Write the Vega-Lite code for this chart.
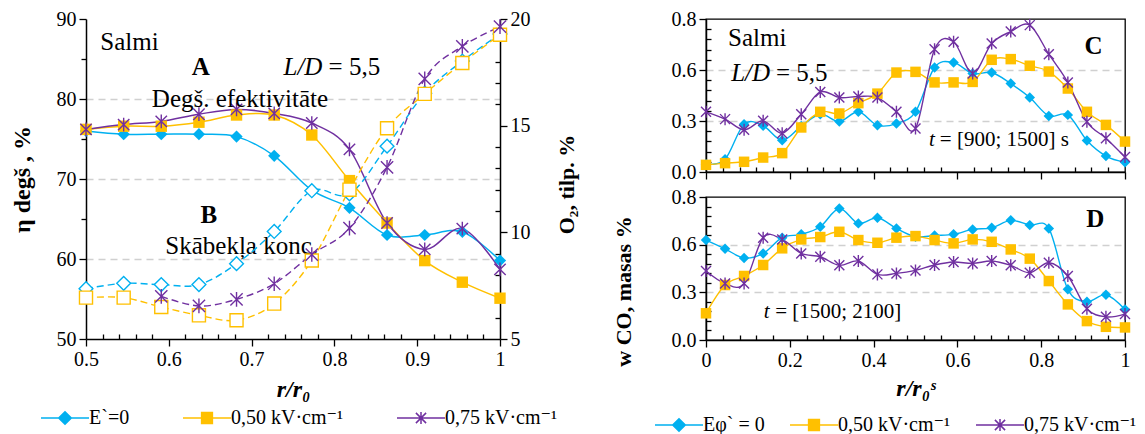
{
"$schema": "https://vega.github.io/schema/vega-lite/v6.json",
"background": "white",
"padding": {"left": 10, "top": 8, "right": 4, "bottom": 0},
"config": {
 "view": {"stroke": null},
 "axis": {"domainColor": "black", "domainWidth": 1.5, "tickColor": "black", "tickWidth": 1.3, "labelColor": "black", "labelFont": "'Liberation Serif', 'Times New Roman', 'DejaVu Serif', serif", "labelFontSize": 20, "titleColor": "black", "titleFont": "'Liberation Serif', 'Times New Roman', 'DejaVu Serif', serif", "titleFontWeight": "bold", "titleFontSize": 22, "labelOverlap": false, "labelFlush": false, "labelBound": false, "gridColor": "#d0d0d0", "gridDash": [7, 5], "gridWidth": 1.3, "labelPadding": 3},
 "legend": {"labelFont": "'Liberation Serif', 'Times New Roman', 'DejaVu Serif', serif", "labelFontSize": 20, "labelColor": "black"},
 "text": {"font": "'Liberation Serif', 'Times New Roman', 'DejaVu Serif', serif", "color": "black"}
},
"datasets": {
 "etaA": [
  {"x": 0.5, "y": 76.0, "s": "E`=0"}, {"x": 0.5455, "y": 75.6, "s": "E`=0"}, {"x": 0.5909, "y": 75.6, "s": "E`=0"}, {"x": 0.6364, "y": 75.6, "s": "E`=0"}, {"x": 0.6818, "y": 75.3, "s": "E`=0"}, {"x": 0.7273, "y": 72.9, "s": "E`=0"}, {"x": 0.7727, "y": 68.6, "s": "E`=0"}, {"x": 0.8182, "y": 66.4, "s": "E`=0"}, {"x": 0.8636, "y": 63.0, "s": "E`=0"}, {"x": 0.9091, "y": 63.0, "s": "E`=0"}, {"x": 0.9545, "y": 63.4, "s": "E`=0"}, {"x": 1, "y": 59.8, "s": "E`=0"},
  {"x": 0.5, "y": 76.2, "s": "0,50 kV·cm⁻¹"}, {"x": 0.5455, "y": 76.6, "s": "0,50 kV·cm⁻¹"}, {"x": 0.5909, "y": 76.6, "s": "0,50 kV·cm⁻¹"}, {"x": 0.6364, "y": 77.1, "s": "0,50 kV·cm⁻¹"}, {"x": 0.6818, "y": 78.0, "s": "0,50 kV·cm⁻¹"}, {"x": 0.7273, "y": 78.0, "s": "0,50 kV·cm⁻¹"}, {"x": 0.7727, "y": 75.5, "s": "0,50 kV·cm⁻¹"}, {"x": 0.8182, "y": 69.8, "s": "0,50 kV·cm⁻¹"}, {"x": 0.8636, "y": 64.5, "s": "0,50 kV·cm⁻¹"}, {"x": 0.9091, "y": 59.8, "s": "0,50 kV·cm⁻¹"}, {"x": 0.9545, "y": 57.1, "s": "0,50 kV·cm⁻¹"}, {"x": 1, "y": 55.1, "s": "0,50 kV·cm⁻¹"},
  {"x": 0.5, "y": 76.2, "s": "0,75 kV·cm⁻¹"}, {"x": 0.5455, "y": 76.8, "s": "0,75 kV·cm⁻¹"}, {"x": 0.5909, "y": 77.2, "s": "0,75 kV·cm⁻¹"}, {"x": 0.6364, "y": 78.1, "s": "0,75 kV·cm⁻¹"}, {"x": 0.6818, "y": 78.7, "s": "0,75 kV·cm⁻¹"}, {"x": 0.7273, "y": 78.2, "s": "0,75 kV·cm⁻¹"}, {"x": 0.7727, "y": 77.0, "s": "0,75 kV·cm⁻¹"}, {"x": 0.8182, "y": 73.7, "s": "0,75 kV·cm⁻¹"}, {"x": 0.8636, "y": 64.5, "s": "0,75 kV·cm⁻¹"}, {"x": 0.9091, "y": 61.2, "s": "0,75 kV·cm⁻¹"}, {"x": 0.9545, "y": 63.8, "s": "0,75 kV·cm⁻¹"}, {"x": 1, "y": 58.7, "s": "0,75 kV·cm⁻¹"}
 ],
 "o2A": [
  {"x": 0.5, "y": 7.36, "s": "E`=0"}, {"x": 0.5455, "y": 7.61, "s": "E`=0"}, {"x": 0.5909, "y": 7.55, "s": "E`=0"}, {"x": 0.6364, "y": 7.55, "s": "E`=0"}, {"x": 0.6818, "y": 8.53, "s": "E`=0"}, {"x": 0.7273, "y": 10.04, "s": "E`=0"}, {"x": 0.7727, "y": 11.95, "s": "E`=0"}, {"x": 0.8182, "y": 11.8, "s": "E`=0"}, {"x": 0.8636, "y": 14.04, "s": "E`=0"}, {"x": 0.9091, "y": 16.52, "s": "E`=0"}, {"x": 0.9545, "y": 18.03, "s": "E`=0"}, {"x": 1, "y": 19.3, "s": "E`=0"},
  {"x": 0.5, "y": 6.94, "s": "0,50 kV·cm⁻¹"}, {"x": 0.5455, "y": 6.94, "s": "0,50 kV·cm⁻¹"}, {"x": 0.5909, "y": 6.5, "s": "0,50 kV·cm⁻¹"}, {"x": 0.6364, "y": 6.11, "s": "0,50 kV·cm⁻¹"}, {"x": 0.6818, "y": 5.88, "s": "0,50 kV·cm⁻¹"}, {"x": 0.7273, "y": 6.66, "s": "0,50 kV·cm⁻¹"}, {"x": 0.7727, "y": 8.68, "s": "0,50 kV·cm⁻¹"}, {"x": 0.8182, "y": 12.0, "s": "0,50 kV·cm⁻¹"}, {"x": 0.8636, "y": 14.88, "s": "0,50 kV·cm⁻¹"}, {"x": 0.9091, "y": 16.49, "s": "0,50 kV·cm⁻¹"}, {"x": 0.9545, "y": 17.94, "s": "0,50 kV·cm⁻¹"}, {"x": 1, "y": 19.26, "s": "0,50 kV·cm⁻¹"},
  {"x": 0.5909, "y": 7.0, "s": "0,75 kV·cm⁻¹"}, {"x": 0.6364, "y": 6.55, "s": "0,75 kV·cm⁻¹"}, {"x": 0.6818, "y": 6.86, "s": "0,75 kV·cm⁻¹"}, {"x": 0.7273, "y": 7.59, "s": "0,75 kV·cm⁻¹"}, {"x": 0.7727, "y": 8.96, "s": "0,75 kV·cm⁻¹"}, {"x": 0.8182, "y": 10.2, "s": "0,75 kV·cm⁻¹"}, {"x": 0.8636, "y": 13.05, "s": "0,75 kV·cm⁻¹"}, {"x": 0.9091, "y": 17.19, "s": "0,75 kV·cm⁻¹"}, {"x": 0.9545, "y": 18.72, "s": "0,75 kV·cm⁻¹"}, {"x": 1, "y": 19.64, "s": "0,75 kV·cm⁻¹"}
 ],
 "C": [
  {"x": 0, "y": 0.046, "s": "Eφ` = 0"}, {"x": 0.0455, "y": 0.075, "s": "Eφ` = 0"}, {"x": 0.0909, "y": 0.281, "s": "Eφ` = 0"}, {"x": 0.1364, "y": 0.272, "s": "Eφ` = 0"}, {"x": 0.1818, "y": 0.187, "s": "Eφ` = 0"}, {"x": 0.2273, "y": 0.27, "s": "Eφ` = 0"}, {"x": 0.2727, "y": 0.34, "s": "Eφ` = 0"}, {"x": 0.3182, "y": 0.297, "s": "Eφ` = 0"}, {"x": 0.3636, "y": 0.354, "s": "Eφ` = 0"}, {"x": 0.4091, "y": 0.275, "s": "Eφ` = 0"}, {"x": 0.4545, "y": 0.285, "s": "Eφ` = 0"}, {"x": 0.5, "y": 0.354, "s": "Eφ` = 0"}, {"x": 0.5455, "y": 0.615, "s": "Eφ` = 0"}, {"x": 0.5909, "y": 0.644, "s": "Eφ` = 0"}, {"x": 0.6364, "y": 0.579, "s": "Eφ` = 0"}, {"x": 0.6818, "y": 0.585, "s": "Eφ` = 0"}, {"x": 0.7273, "y": 0.52, "s": "Eφ` = 0"}, {"x": 0.7727, "y": 0.438, "s": "Eφ` = 0"}, {"x": 0.8182, "y": 0.33, "s": "Eφ` = 0"}, {"x": 0.8636, "y": 0.336, "s": "Eφ` = 0"}, {"x": 0.9091, "y": 0.185, "s": "Eφ` = 0"}, {"x": 0.9545, "y": 0.094, "s": "Eφ` = 0"}, {"x": 1, "y": 0.058, "s": "Eφ` = 0"},
  {"x": 0, "y": 0.042, "s": "0,50 kV·cm⁻¹"}, {"x": 0.0455, "y": 0.052, "s": "0,50 kV·cm⁻¹"}, {"x": 0.0909, "y": 0.06, "s": "0,50 kV·cm⁻¹"}, {"x": 0.1364, "y": 0.085, "s": "0,50 kV·cm⁻¹"}, {"x": 0.1818, "y": 0.111, "s": "0,50 kV·cm⁻¹"}, {"x": 0.2273, "y": 0.262, "s": "0,50 kV·cm⁻¹"}, {"x": 0.2727, "y": 0.354, "s": "0,50 kV·cm⁻¹"}, {"x": 0.3182, "y": 0.344, "s": "0,50 kV·cm⁻¹"}, {"x": 0.3636, "y": 0.405, "s": "0,50 kV·cm⁻¹"}, {"x": 0.4091, "y": 0.461, "s": "0,50 kV·cm⁻¹"}, {"x": 0.4545, "y": 0.585, "s": "0,50 kV·cm⁻¹"}, {"x": 0.5, "y": 0.589, "s": "0,50 kV·cm⁻¹"}, {"x": 0.5455, "y": 0.527, "s": "0,50 kV·cm⁻¹"}, {"x": 0.5909, "y": 0.527, "s": "0,50 kV·cm⁻¹"}, {"x": 0.6364, "y": 0.53, "s": "0,50 kV·cm⁻¹"}, {"x": 0.6818, "y": 0.66, "s": "0,50 kV·cm⁻¹"}, {"x": 0.7273, "y": 0.664, "s": "0,50 kV·cm⁻¹"}, {"x": 0.7727, "y": 0.625, "s": "0,50 kV·cm⁻¹"}, {"x": 0.8182, "y": 0.591, "s": "0,50 kV·cm⁻¹"}, {"x": 0.8636, "y": 0.491, "s": "0,50 kV·cm⁻¹"}, {"x": 0.9091, "y": 0.354, "s": "0,50 kV·cm⁻¹"}, {"x": 0.9545, "y": 0.277, "s": "0,50 kV·cm⁻¹"}, {"x": 1, "y": 0.179, "s": "0,50 kV·cm⁻¹"},
  {"x": 0, "y": 0.354, "s": "0,75 kV·cm⁻¹"}, {"x": 0.0455, "y": 0.311, "s": "0,75 kV·cm⁻¹"}, {"x": 0.0909, "y": 0.248, "s": "0,75 kV·cm⁻¹"}, {"x": 0.1364, "y": 0.301, "s": "0,75 kV·cm⁻¹"}, {"x": 0.1818, "y": 0.228, "s": "0,75 kV·cm⁻¹"}, {"x": 0.2273, "y": 0.34, "s": "0,75 kV·cm⁻¹"}, {"x": 0.2727, "y": 0.471, "s": "0,75 kV·cm⁻¹"}, {"x": 0.3182, "y": 0.438, "s": "0,75 kV·cm⁻¹"}, {"x": 0.3636, "y": 0.444, "s": "0,75 kV·cm⁻¹"}, {"x": 0.4091, "y": 0.438, "s": "0,75 kV·cm⁻¹"}, {"x": 0.4545, "y": 0.354, "s": "0,75 kV·cm⁻¹"}, {"x": 0.5, "y": 0.256, "s": "0,75 kV·cm⁻¹"}, {"x": 0.5455, "y": 0.722, "s": "0,75 kV·cm⁻¹"}, {"x": 0.5909, "y": 0.766, "s": "0,75 kV·cm⁻¹"}, {"x": 0.6364, "y": 0.579, "s": "0,75 kV·cm⁻¹"}, {"x": 0.6818, "y": 0.756, "s": "0,75 kV·cm⁻¹"}, {"x": 0.7273, "y": 0.826, "s": "0,75 kV·cm⁻¹"}, {"x": 0.7727, "y": 0.864, "s": "0,75 kV·cm⁻¹"}, {"x": 0.8182, "y": 0.693, "s": "0,75 kV·cm⁻¹"}, {"x": 0.8636, "y": 0.527, "s": "0,75 kV·cm⁻¹"}, {"x": 0.9091, "y": 0.295, "s": "0,75 kV·cm⁻¹"}, {"x": 0.9545, "y": 0.199, "s": "0,75 kV·cm⁻¹"}, {"x": 1, "y": 0.088, "s": "0,75 kV·cm⁻¹"}
 ],
 "D": [
  {"x": 0, "y": 0.629, "s": "Eφ` = 0"}, {"x": 0.0455, "y": 0.574, "s": "Eφ` = 0"}, {"x": 0.0909, "y": 0.516, "s": "Eφ` = 0"}, {"x": 0.1364, "y": 0.545, "s": "Eφ` = 0"}, {"x": 0.1818, "y": 0.644, "s": "Eφ` = 0"}, {"x": 0.2273, "y": 0.665, "s": "Eφ` = 0"}, {"x": 0.2727, "y": 0.713, "s": "Eφ` = 0"}, {"x": 0.3182, "y": 0.828, "s": "Eφ` = 0"}, {"x": 0.3636, "y": 0.734, "s": "Eφ` = 0"}, {"x": 0.4091, "y": 0.769, "s": "Eφ` = 0"}, {"x": 0.4545, "y": 0.702, "s": "Eφ` = 0"}, {"x": 0.5, "y": 0.65, "s": "Eφ` = 0"}, {"x": 0.5455, "y": 0.658, "s": "Eφ` = 0"}, {"x": 0.5909, "y": 0.665, "s": "Eφ` = 0"}, {"x": 0.6364, "y": 0.696, "s": "Eφ` = 0"}, {"x": 0.6818, "y": 0.706, "s": "Eφ` = 0"}, {"x": 0.7273, "y": 0.753, "s": "Eφ` = 0"}, {"x": 0.7727, "y": 0.723, "s": "Eφ` = 0"}, {"x": 0.8182, "y": 0.702, "s": "Eφ` = 0"}, {"x": 0.8636, "y": 0.319, "s": "Eφ` = 0"}, {"x": 0.9091, "y": 0.241, "s": "Eφ` = 0"}, {"x": 0.9545, "y": 0.285, "s": "Eφ` = 0"}, {"x": 1, "y": 0.192, "s": "Eφ` = 0"},
  {"x": 0, "y": 0.168, "s": "0,50 kV·cm⁻¹"}, {"x": 0.0455, "y": 0.346, "s": "0,50 kV·cm⁻¹"}, {"x": 0.0909, "y": 0.403, "s": "0,50 kV·cm⁻¹"}, {"x": 0.1364, "y": 0.472, "s": "0,50 kV·cm⁻¹"}, {"x": 0.1818, "y": 0.577, "s": "0,50 kV·cm⁻¹"}, {"x": 0.2273, "y": 0.633, "s": "0,50 kV·cm⁻¹"}, {"x": 0.2727, "y": 0.648, "s": "0,50 kV·cm⁻¹"}, {"x": 0.3182, "y": 0.681, "s": "0,50 kV·cm⁻¹"}, {"x": 0.3636, "y": 0.629, "s": "0,50 kV·cm⁻¹"}, {"x": 0.4091, "y": 0.612, "s": "0,50 kV·cm⁻¹"}, {"x": 0.4545, "y": 0.644, "s": "0,50 kV·cm⁻¹"}, {"x": 0.5, "y": 0.654, "s": "0,50 kV·cm⁻¹"}, {"x": 0.5455, "y": 0.629, "s": "0,50 kV·cm⁻¹"}, {"x": 0.5909, "y": 0.608, "s": "0,50 kV·cm⁻¹"}, {"x": 0.6364, "y": 0.633, "s": "0,50 kV·cm⁻¹"}, {"x": 0.6818, "y": 0.618, "s": "0,50 kV·cm⁻¹"}, {"x": 0.7273, "y": 0.57, "s": "0,50 kV·cm⁻¹"}, {"x": 0.7727, "y": 0.512, "s": "0,50 kV·cm⁻¹"}, {"x": 0.8182, "y": 0.371, "s": "0,50 kV·cm⁻¹"}, {"x": 0.8636, "y": 0.224, "s": "0,50 kV·cm⁻¹"}, {"x": 0.9091, "y": 0.119, "s": "0,50 kV·cm⁻¹"}, {"x": 0.9545, "y": 0.083, "s": "0,50 kV·cm⁻¹"}, {"x": 1, "y": 0.079, "s": "0,50 kV·cm⁻¹"},
  {"x": 0, "y": 0.434, "s": "0,75 kV·cm⁻¹"}, {"x": 0.0455, "y": 0.356, "s": "0,75 kV·cm⁻¹"}, {"x": 0.0909, "y": 0.356, "s": "0,75 kV·cm⁻¹"}, {"x": 0.1364, "y": 0.644, "s": "0,75 kV·cm⁻¹"}, {"x": 0.1818, "y": 0.633, "s": "0,75 kV·cm⁻¹"}, {"x": 0.2273, "y": 0.545, "s": "0,75 kV·cm⁻¹"}, {"x": 0.2727, "y": 0.524, "s": "0,75 kV·cm⁻¹"}, {"x": 0.3182, "y": 0.47, "s": "0,75 kV·cm⁻¹"}, {"x": 0.3636, "y": 0.497, "s": "0,75 kV·cm⁻¹"}, {"x": 0.4091, "y": 0.413, "s": "0,75 kV·cm⁻¹"}, {"x": 0.4545, "y": 0.419, "s": "0,75 kV·cm⁻¹"}, {"x": 0.5, "y": 0.438, "s": "0,75 kV·cm⁻¹"}, {"x": 0.5455, "y": 0.472, "s": "0,75 kV·cm⁻¹"}, {"x": 0.5909, "y": 0.491, "s": "0,75 kV·cm⁻¹"}, {"x": 0.6364, "y": 0.482, "s": "0,75 kV·cm⁻¹"}, {"x": 0.6818, "y": 0.497, "s": "0,75 kV·cm⁻¹"}, {"x": 0.7273, "y": 0.47, "s": "0,75 kV·cm⁻¹"}, {"x": 0.7727, "y": 0.423, "s": "0,75 kV·cm⁻¹"}, {"x": 0.8182, "y": 0.486, "s": "0,75 kV·cm⁻¹"}, {"x": 0.8636, "y": 0.403, "s": "0,75 kV·cm⁻¹"}, {"x": 0.9091, "y": 0.197, "s": "0,75 kV·cm⁻¹"}, {"x": 0.9545, "y": 0.146, "s": "0,75 kV·cm⁻¹"}, {"x": 1, "y": 0.163, "s": "0,75 kV·cm⁻¹"}
 ],
 "tA_n": [{"x": 0.5172, "y": 87.1, "t": "Salmi"}, {"x": 0.793, "y": 83.95, "t": "= 5,5"}, {"x": 0.5795, "y": 80.0, "t": "Degš. efektivitāte"}, {"x": 0.5958, "y": 61.6, "t": "Skābekļa konc."}],
 "tA_b": [{"x": 0.6386, "y": 83.95, "t": "A"}, {"x": 0.6484, "y": 65.5, "t": "B"}],
 "tA_i": [{"x": 0.7385, "y": 83.95, "t": "L/D"}],
 "tC_n": [{"x": 0.0525, "y": 0.791, "t": "Salmi"}, {"x": 0.167, "y": 0.585, "t": "= 5,5"}],
 "tC_i": [{"x": 0.06, "y": 0.585, "t": "L/D"}],
 "tC_b": [{"x": 0.925, "y": 0.74, "t": "C"}],
 "tC_ti": [{"x": 0.532, "y": 0.19, "t": "t"}],
 "tC_tn": [{"x": 0.558, "y": 0.19, "t": "= [900; 1500] s"}],
 "tD_b": [{"x": 0.929, "y": 0.76, "t": "D"}],
 "tD_ti": [{"x": 0.138, "y": 0.176, "t": "t"}],
 "tD_tn": [{"x": 0.165, "y": 0.176, "t": "= [1500; 2100]"}]
},
"hconcat": [
 {
  "width": 414, "height": 320,
  "layer": [
   {
    "encoding": {
     "x": {"field": "x", "type": "quantitative", "scale": {"domain": [0.5, 1], "nice": false, "zero": false}, "axis": {"values": [0.5,0.52,0.54,0.56,0.58,0.6,0.62,0.64,0.66,0.68,0.7,0.72,0.74,0.76,0.78,0.8,0.82,0.84,0.86,0.88,0.9,0.92,0.94,0.96,0.98,1], "labelExpr": "abs(datum.value*10-round(datum.value*10))<0.001 ? format(datum.value,'~g') : ''", "labelFont": "'Liberation Serif', 'Times New Roman', 'DejaVu Serif', serif", "tickSize": {"condition": {"test": "abs(datum.value*10-round(datum.value*10))<0.001", "value": 7}, "value": -5}, "grid": false, "title": "r/r₀", "titleFontStyle": "italic", "titleFontSize": 24, "titlePadding": 8}},
     "y": {"field": "y", "type": "quantitative", "scale": {"domain": [50, 90], "nice": false, "zero": false}, "axis": {"orient": "left", "values": [50,55,60,65,70,75,80,85,90], "labelExpr": "datum.value % 10 == 0 ? datum.label : ''", "labelFont": "'Liberation Serif', 'Times New Roman', 'DejaVu Serif', serif", "tickSize": {"condition": {"test": "datum.value % 10 == 0", "value": 7}, "value": 5}, "grid": true, "gridOpacity": {"condition": {"test": "datum.value==60||datum.value==70||datum.value==80", "value": 1}, "value": 0}, "title": "η degš , %", "titleFontSize": 24, "titleX": -64, "titleY": 160, "titleAngle": 270, "titleBaseline": "middle", "titleAlign": "center"}}
    },
    "layer": [
     {"data": {"name": "etaA"}, "mark": {"type": "line", "interpolate": "cardinal", "strokeWidth": 1.5}, "encoding": {"color": {"field": "s", "type": "nominal", "scale": {"domain": ["E`=0", "0,50 kV·cm⁻¹", "0,75 kV·cm⁻¹"], "range": ["#00B0F0", "#FFC000", "#7030A0"]}, "legend": {"orient": "none", "legendX": -31, "legendY": 389, "direction": "horizontal", "title": null, "symbolSize": 144, "labelOffset": 14, "columnPadding": 50, "labelFontSize": 20, "labelColor": "black", "encode": {"symbols": {"update": {"shape": {"signal": "indexof(datum.value,'0,50')>=0 ? 'M-4,0H4M-0.9,-0.9H0.9V0.9H-0.9Z' : indexof(datum.value,'0,75')>=0 ? 'M-4,0H4M-0.85,-0.85L0.85,0.85M-0.85,0.85L0.85,-0.85M0,-1L0,1' : 'M-4,0H4M0,-1.05L1.05,0L0,1.05L-1.05,0Z'"}, "fill": {"signal": "indexof(datum.value,'0,50')>=0 ? '#FFC000' : indexof(datum.value,'0,75')>=0 ? '#7030A0' : '#00B0F0'"}, "stroke": {"signal": "indexof(datum.value,'0,50')>=0 ? '#FFC000' : indexof(datum.value,'0,75')>=0 ? '#7030A0' : '#00B0F0'"}, "strokeWidth": {"value": 1.5}, "opacity": {"value": 1}, "size": {"value": 144}}}}}}}},
     {"data": {"name": "etaA"}, "transform": [{"filter": "indexof(datum.s,'0,')<0"}], "mark": {"type": "point", "shape": "diamond", "filled": true, "size": 150, "opacity": 1}, "encoding": {"color": {"field": "s", "type": "nominal", "scale": {"domain": ["E`=0", "0,50 kV·cm⁻¹", "0,75 kV·cm⁻¹"], "range": ["#00B0F0", "#FFC000", "#7030A0"]}, "legend": {"orient": "none", "legendX": -31, "legendY": 389, "direction": "horizontal", "title": null, "symbolSize": 144, "labelOffset": 14, "columnPadding": 50, "labelFontSize": 20, "labelColor": "black", "encode": {"symbols": {"update": {"shape": {"signal": "indexof(datum.value,'0,50')>=0 ? 'M-4,0H4M-0.9,-0.9H0.9V0.9H-0.9Z' : indexof(datum.value,'0,75')>=0 ? 'M-4,0H4M-0.85,-0.85L0.85,0.85M-0.85,0.85L0.85,-0.85M0,-1L0,1' : 'M-4,0H4M0,-1.05L1.05,0L0,1.05L-1.05,0Z'"}, "fill": {"signal": "indexof(datum.value,'0,50')>=0 ? '#FFC000' : indexof(datum.value,'0,75')>=0 ? '#7030A0' : '#00B0F0'"}, "stroke": {"signal": "indexof(datum.value,'0,50')>=0 ? '#FFC000' : indexof(datum.value,'0,75')>=0 ? '#7030A0' : '#00B0F0'"}, "strokeWidth": {"value": 1.5}, "opacity": {"value": 1}, "size": {"value": 144}}}}}}}},
     {"data": {"name": "etaA"}, "transform": [{"filter": "indexof(datum.s,'0,50')>=0"}], "mark": {"type": "point", "shape": "square", "filled": true, "size": 130, "opacity": 1}, "encoding": {"color": {"field": "s", "type": "nominal", "scale": {"domain": ["E`=0", "0,50 kV·cm⁻¹", "0,75 kV·cm⁻¹"], "range": ["#00B0F0", "#FFC000", "#7030A0"]}, "legend": {"orient": "none", "legendX": -31, "legendY": 389, "direction": "horizontal", "title": null, "symbolSize": 144, "labelOffset": 14, "columnPadding": 50, "labelFontSize": 20, "labelColor": "black", "encode": {"symbols": {"update": {"shape": {"signal": "indexof(datum.value,'0,50')>=0 ? 'M-4,0H4M-0.9,-0.9H0.9V0.9H-0.9Z' : indexof(datum.value,'0,75')>=0 ? 'M-4,0H4M-0.85,-0.85L0.85,0.85M-0.85,0.85L0.85,-0.85M0,-1L0,1' : 'M-4,0H4M0,-1.05L1.05,0L0,1.05L-1.05,0Z'"}, "fill": {"signal": "indexof(datum.value,'0,50')>=0 ? '#FFC000' : indexof(datum.value,'0,75')>=0 ? '#7030A0' : '#00B0F0'"}, "stroke": {"signal": "indexof(datum.value,'0,50')>=0 ? '#FFC000' : indexof(datum.value,'0,75')>=0 ? '#7030A0' : '#00B0F0'"}, "strokeWidth": {"value": 1.5}, "opacity": {"value": 1}, "size": {"value": 144}}}}}}}},
     {"data": {"name": "etaA"}, "transform": [{"filter": "indexof(datum.s,'0,75')>=0"}], "mark": {"type": "point", "shape": "M-1,-1L1,1M-1,1L1,-1M0,-1.2L0,1.2", "filled": false, "size": 130, "strokeWidth": 1.4, "opacity": 1}, "encoding": {"color": {"field": "s", "type": "nominal", "scale": {"domain": ["E`=0", "0,50 kV·cm⁻¹", "0,75 kV·cm⁻¹"], "range": ["#00B0F0", "#FFC000", "#7030A0"]}, "legend": {"orient": "none", "legendX": -31, "legendY": 389, "direction": "horizontal", "title": null, "symbolSize": 144, "labelOffset": 14, "columnPadding": 50, "labelFontSize": 20, "labelColor": "black", "encode": {"symbols": {"update": {"shape": {"signal": "indexof(datum.value,'0,50')>=0 ? 'M-4,0H4M-0.9,-0.9H0.9V0.9H-0.9Z' : indexof(datum.value,'0,75')>=0 ? 'M-4,0H4M-0.85,-0.85L0.85,0.85M-0.85,0.85L0.85,-0.85M0,-1L0,1' : 'M-4,0H4M0,-1.05L1.05,0L0,1.05L-1.05,0Z'"}, "fill": {"signal": "indexof(datum.value,'0,50')>=0 ? '#FFC000' : indexof(datum.value,'0,75')>=0 ? '#7030A0' : '#00B0F0'"}, "stroke": {"signal": "indexof(datum.value,'0,50')>=0 ? '#FFC000' : indexof(datum.value,'0,75')>=0 ? '#7030A0' : '#00B0F0'"}, "strokeWidth": {"value": 1.5}, "opacity": {"value": 1}, "size": {"value": 144}}}}}}}},
     {"data": {"name": "tA_n"}, "mark": {"type": "text", "align": "left", "baseline": "middle", "fontSize": 25, "font": "'Liberation Serif', 'Times New Roman', 'DejaVu Serif', serif", "color": "black"}, "encoding": {"text": {"field": "t"}}},
     {"data": {"name": "tA_b"}, "mark": {"type": "text", "align": "center", "baseline": "middle", "fontSize": 25, "fontWeight": "bold", "font": "'Liberation Serif', 'Times New Roman', 'DejaVu Serif', serif", "color": "black"}, "encoding": {"text": {"field": "t"}}},
     {"data": {"name": "tA_i"}, "mark": {"type": "text", "align": "left", "baseline": "middle", "fontSize": 25, "fontStyle": "italic", "font": "'Liberation Serif', 'Times New Roman', 'DejaVu Serif', serif", "color": "black"}, "encoding": {"text": {"field": "t"}}}
    ]
   },
   {
    "encoding": {
     "x": {"field": "x", "type": "quantitative", "scale": {"domain": [0.5, 1], "nice": false, "zero": false}, "axis": {"values": [0.5,0.52,0.54,0.56,0.58,0.6,0.62,0.64,0.66,0.68,0.7,0.72,0.74,0.76,0.78,0.8,0.82,0.84,0.86,0.88,0.9,0.92,0.94,0.96,0.98,1], "labelExpr": "abs(datum.value*10-round(datum.value*10))<0.001 ? format(datum.value,'~g') : ''", "labelFont": "'Liberation Serif', 'Times New Roman', 'DejaVu Serif', serif", "tickSize": {"condition": {"test": "abs(datum.value*10-round(datum.value*10))<0.001", "value": 7}, "value": -5}, "grid": false, "title": "r/r₀", "titleFontStyle": "italic", "titleFontSize": 24, "titlePadding": 8}},
     "y": {"field": "y", "type": "quantitative", "scale": {"domain": [5, 20], "nice": false, "zero": false}, "axis": {"orient": "right", "values": [5,6,7,8,9,10,11,12,13,14,15,16,17,18,19,20], "labelExpr": "datum.value % 5 == 0 ? datum.label : ''", "labelFont": "'Liberation Serif', 'Times New Roman', 'DejaVu Serif', serif", "tickSize": {"condition": {"test": "datum.value % 5 == 0", "value": 7}, "value": -5}, "grid": false, "title": "O₂, tilp. %", "titleX": 66, "titleY": 165, "titleAngle": 270, "titleBaseline": "middle", "titleAlign": "center"}}
    },
    "layer": [
     {"data": {"name": "o2A"}, "mark": {"type": "line", "interpolate": "cardinal", "strokeWidth": 1.4, "strokeDash": [7, 4]}, "encoding": {"color": {"field": "s", "type": "nominal", "scale": {"domain": ["E`=0", "0,50 kV·cm⁻¹", "0,75 kV·cm⁻¹"], "range": ["#00B0F0", "#FFC000", "#7030A0"]}, "legend": null}}},
     {"data": {"name": "o2A"}, "transform": [{"filter": "indexof(datum.s,'0,')<0"}], "mark": {"type": "point", "shape": "diamond", "filled": false, "fill": "white", "size": 190, "strokeWidth": 1.4, "opacity": 1}, "encoding": {"color": {"field": "s", "type": "nominal", "scale": {"domain": ["E`=0", "0,50 kV·cm⁻¹", "0,75 kV·cm⁻¹"], "range": ["#00B0F0", "#FFC000", "#7030A0"]}, "legend": null}}},
     {"data": {"name": "o2A"}, "transform": [{"filter": "indexof(datum.s,'0,50')>=0"}], "mark": {"type": "point", "shape": "square", "filled": false, "fill": "white", "size": 170, "strokeWidth": 1.4, "opacity": 1}, "encoding": {"color": {"field": "s", "type": "nominal", "scale": {"domain": ["E`=0", "0,50 kV·cm⁻¹", "0,75 kV·cm⁻¹"], "range": ["#00B0F0", "#FFC000", "#7030A0"]}, "legend": null}}},
     {"data": {"name": "o2A"}, "transform": [{"filter": "indexof(datum.s,'0,75')>=0"}], "mark": {"type": "point", "shape": "M-1,-1L1,1M-1,1L1,-1M0,-1.2L0,1.2", "filled": false, "size": 150, "strokeWidth": 1.4, "opacity": 1}, "encoding": {"color": {"field": "s", "type": "nominal", "scale": {"domain": ["E`=0", "0,50 kV·cm⁻¹", "0,75 kV·cm⁻¹"], "range": ["#00B0F0", "#FFC000", "#7030A0"]}, "legend": null}}}
    ]
   }
  ],
  "resolve": {"scale": {"y": "independent"}}
 },
 {
  "vconcat": [
   {
    "width": 419, "height": 153,
    "view": {"stroke": "black", "strokeWidth": 1.3},
    "encoding": {
     "x": {"field": "x", "type": "quantitative", "scale": {"domain": [0, 1], "nice": false}, "axis": {"values": [0,0.04,0.08,0.12,0.16,0.2,0.24,0.28,0.32,0.36,0.4,0.44,0.48,0.52,0.56,0.6,0.64,0.68,0.72,0.76,0.8,0.84,0.88,0.92,0.96,1], "labels": false, "tickSize": {"condition": {"test": "abs(datum.value*5-round(datum.value*5))<0.001", "value": 7}, "value": -5}, "grid": false, "title": null}},
     "y": {"field": "y", "type": "quantitative", "scale": {"domain": [0, 0.9], "nice": false}, "axis": {"values": [0,0.06,0.12,0.18,0.24,0.3,0.36,0.42,0.48,0.54,0.6,0.66,0.72,0.78,0.84,0.9], "labelExpr": "abs(datum.value/0.3-round(datum.value/0.3))<0.001 ? (datum.value>0.85 ? '0.8' : format(datum.value,'.1f')) : ''", "labelFont": "'Liberation Serif', 'Times New Roman', 'DejaVu Serif', serif", "tickSize": {"condition": {"test": "abs(datum.value/0.3-round(datum.value/0.3))<0.001", "value": 7}, "value": -5}, "grid": true, "gridOpacity": {"condition": {"test": "abs(datum.value-0.3)<0.001||abs(datum.value-0.6)<0.001", "value": 1}, "value": 0}, "title": "w", "titleOpacity": 0, "titleX": -83, "titleY": 76, "titleAngle": 270, "titleBaseline": "middle", "titleAlign": "center"}}
    },
    "layer": [
     {"data": {"name": "C"}, "mark": {"type": "line", "interpolate": "cardinal", "strokeWidth": 1.4}, "encoding": {"color": {"field": "s", "type": "nominal", "scale": {"domain": ["Eφ` = 0", "0,50 kV·cm⁻¹", "0,75 kV·cm⁻¹"], "range": ["#00B0F0", "#FFC000", "#7030A0"]}, "legend": null}}},
     {"data": {"name": "C"}, "transform": [{"filter": "indexof(datum.s,'0,')<0"}], "mark": {"type": "point", "shape": "diamond", "filled": true, "size": 110, "opacity": 1}, "encoding": {"color": {"field": "s", "type": "nominal", "scale": {"domain": ["Eφ` = 0", "0,50 kV·cm⁻¹", "0,75 kV·cm⁻¹"], "range": ["#00B0F0", "#FFC000", "#7030A0"]}, "legend": null}}},
     {"data": {"name": "C"}, "transform": [{"filter": "indexof(datum.s,'0,50')>=0"}], "mark": {"type": "point", "shape": "square", "filled": true, "size": 110, "opacity": 1}, "encoding": {"color": {"field": "s", "type": "nominal", "scale": {"domain": ["Eφ` = 0", "0,50 kV·cm⁻¹", "0,75 kV·cm⁻¹"], "range": ["#00B0F0", "#FFC000", "#7030A0"]}, "legend": null}}},
     {"data": {"name": "C"}, "transform": [{"filter": "indexof(datum.s,'0,75')>=0"}], "mark": {"type": "point", "shape": "M-1,-1L1,1M-1,1L1,-1M0,-1.2L0,1.2", "filled": false, "size": 100, "strokeWidth": 1.4, "opacity": 1}, "encoding": {"color": {"field": "s", "type": "nominal", "scale": {"domain": ["Eφ` = 0", "0,50 kV·cm⁻¹", "0,75 kV·cm⁻¹"], "range": ["#00B0F0", "#FFC000", "#7030A0"]}, "legend": null}}},
     {"data": {"name": "tC_n"}, "mark": {"type": "text", "align": "left", "baseline": "middle", "fontSize": 25, "font": "'Liberation Serif', 'Times New Roman', 'DejaVu Serif', serif", "color": "black"}, "encoding": {"text": {"field": "t"}}},
     {"data": {"name": "tC_i"}, "mark": {"type": "text", "align": "left", "baseline": "middle", "fontSize": 25, "fontStyle": "italic", "font": "'Liberation Serif', 'Times New Roman', 'DejaVu Serif', serif", "color": "black"}, "encoding": {"text": {"field": "t"}}},
     {"data": {"name": "tC_b"}, "mark": {"type": "text", "align": "center", "baseline": "middle", "fontSize": 25, "fontWeight": "bold", "font": "'Liberation Serif', 'Times New Roman', 'DejaVu Serif', serif", "color": "black"}, "encoding": {"text": {"field": "t"}}},
     {"data": {"name": "tC_ti"}, "mark": {"type": "text", "align": "left", "baseline": "middle", "fontSize": 21, "fontStyle": "italic", "font": "'Liberation Serif', 'Times New Roman', 'DejaVu Serif', serif", "color": "black"}, "encoding": {"text": {"field": "t"}}},
     {"data": {"name": "tC_tn"}, "mark": {"type": "text", "align": "left", "baseline": "middle", "fontSize": 21, "font": "'Liberation Serif', 'Times New Roman', 'DejaVu Serif', serif", "color": "black"}, "encoding": {"text": {"field": "t"}}}
    ]
   },
   {
    "width": 419, "height": 143,
    "view": {"stroke": "black", "strokeWidth": 1.3},
    "encoding": {
     "x": {"field": "x", "type": "quantitative", "scale": {"domain": [0, 1], "nice": false}, "axis": {"values": [0,0.04,0.08,0.12,0.16,0.2,0.24,0.28,0.32,0.36,0.4,0.44,0.48,0.52,0.56,0.6,0.64,0.68,0.72,0.76,0.8,0.84,0.88,0.92,0.96,1], "labelExpr": "abs(datum.value*5-round(datum.value*5))<0.001 ? format(datum.value,'~g') : ''", "labelFont": "'Liberation Serif', 'Times New Roman', 'DejaVu Serif', serif", "tickSize": {"condition": {"test": "abs(datum.value*5-round(datum.value*5))<0.001", "value": 7}, "value": -5}, "grid": false, "title": "r/r₀ˢ", "titleFontStyle": "italic", "titleFontSize": 24, "titlePadding": 6}},
     "y": {"field": "y", "type": "quantitative", "scale": {"domain": [0, 0.9], "nice": false}, "axis": {"values": [0,0.06,0.12,0.18,0.24,0.3,0.36,0.42,0.48,0.54,0.6,0.66,0.72,0.78,0.84,0.9], "labelExpr": "abs(datum.value/0.3-round(datum.value/0.3))<0.001 ? (datum.value>0.85 ? '0.8' : format(datum.value,'.1f')) : ''", "labelFont": "'Liberation Serif', 'Times New Roman', 'DejaVu Serif', serif", "tickSize": {"condition": {"test": "abs(datum.value/0.3-round(datum.value/0.3))<0.001", "value": 7}, "value": -5}, "grid": true, "gridOpacity": {"condition": {"test": "abs(datum.value-0.3)<0.001||abs(datum.value-0.6)<0.001", "value": 1}, "value": 0}, "title": "w CO, masas %", "titleX": -83, "titleY": 94, "titleAngle": 270, "titleBaseline": "middle", "titleAlign": "center"}}
    },
    "layer": [
     {"data": {"name": "D"}, "mark": {"type": "line", "interpolate": "cardinal", "strokeWidth": 1.4}, "encoding": {"color": {"field": "s", "type": "nominal", "scale": {"domain": ["Eφ` = 0", "0,50 kV·cm⁻¹", "0,75 kV·cm⁻¹"], "range": ["#00B0F0", "#FFC000", "#7030A0"]}, "legend": {"orient": "none", "legendX": -37, "legendY": 218, "direction": "horizontal", "title": null, "symbolSize": 144, "labelOffset": 14, "columnPadding": 22, "labelFontSize": 20, "labelColor": "black", "encode": {"symbols": {"update": {"shape": {"signal": "indexof(datum.value,'0,50')>=0 ? 'M-4,0H4M-0.9,-0.9H0.9V0.9H-0.9Z' : indexof(datum.value,'0,75')>=0 ? 'M-4,0H4M-0.85,-0.85L0.85,0.85M-0.85,0.85L0.85,-0.85M0,-1L0,1' : 'M-4,0H4M0,-1.05L1.05,0L0,1.05L-1.05,0Z'"}, "fill": {"signal": "indexof(datum.value,'0,50')>=0 ? '#FFC000' : indexof(datum.value,'0,75')>=0 ? '#7030A0' : '#00B0F0'"}, "stroke": {"signal": "indexof(datum.value,'0,50')>=0 ? '#FFC000' : indexof(datum.value,'0,75')>=0 ? '#7030A0' : '#00B0F0'"}, "strokeWidth": {"value": 1.5}, "opacity": {"value": 1}, "size": {"value": 144}}}}}}}},
     {"data": {"name": "D"}, "transform": [{"filter": "indexof(datum.s,'0,')<0"}], "mark": {"type": "point", "shape": "diamond", "filled": true, "size": 110, "opacity": 1}, "encoding": {"color": {"field": "s", "type": "nominal", "scale": {"domain": ["Eφ` = 0", "0,50 kV·cm⁻¹", "0,75 kV·cm⁻¹"], "range": ["#00B0F0", "#FFC000", "#7030A0"]}, "legend": {"orient": "none", "legendX": -37, "legendY": 218, "direction": "horizontal", "title": null, "symbolSize": 144, "labelOffset": 14, "columnPadding": 22, "labelFontSize": 20, "labelColor": "black", "encode": {"symbols": {"update": {"shape": {"signal": "indexof(datum.value,'0,50')>=0 ? 'M-4,0H4M-0.9,-0.9H0.9V0.9H-0.9Z' : indexof(datum.value,'0,75')>=0 ? 'M-4,0H4M-0.85,-0.85L0.85,0.85M-0.85,0.85L0.85,-0.85M0,-1L0,1' : 'M-4,0H4M0,-1.05L1.05,0L0,1.05L-1.05,0Z'"}, "fill": {"signal": "indexof(datum.value,'0,50')>=0 ? '#FFC000' : indexof(datum.value,'0,75')>=0 ? '#7030A0' : '#00B0F0'"}, "stroke": {"signal": "indexof(datum.value,'0,50')>=0 ? '#FFC000' : indexof(datum.value,'0,75')>=0 ? '#7030A0' : '#00B0F0'"}, "strokeWidth": {"value": 1.5}, "opacity": {"value": 1}, "size": {"value": 144}}}}}}}},
     {"data": {"name": "D"}, "transform": [{"filter": "indexof(datum.s,'0,50')>=0"}], "mark": {"type": "point", "shape": "square", "filled": true, "size": 110, "opacity": 1}, "encoding": {"color": {"field": "s", "type": "nominal", "scale": {"domain": ["Eφ` = 0", "0,50 kV·cm⁻¹", "0,75 kV·cm⁻¹"], "range": ["#00B0F0", "#FFC000", "#7030A0"]}, "legend": {"orient": "none", "legendX": -37, "legendY": 218, "direction": "horizontal", "title": null, "symbolSize": 144, "labelOffset": 14, "columnPadding": 22, "labelFontSize": 20, "labelColor": "black", "encode": {"symbols": {"update": {"shape": {"signal": "indexof(datum.value,'0,50')>=0 ? 'M-4,0H4M-0.9,-0.9H0.9V0.9H-0.9Z' : indexof(datum.value,'0,75')>=0 ? 'M-4,0H4M-0.85,-0.85L0.85,0.85M-0.85,0.85L0.85,-0.85M0,-1L0,1' : 'M-4,0H4M0,-1.05L1.05,0L0,1.05L-1.05,0Z'"}, "fill": {"signal": "indexof(datum.value,'0,50')>=0 ? '#FFC000' : indexof(datum.value,'0,75')>=0 ? '#7030A0' : '#00B0F0'"}, "stroke": {"signal": "indexof(datum.value,'0,50')>=0 ? '#FFC000' : indexof(datum.value,'0,75')>=0 ? '#7030A0' : '#00B0F0'"}, "strokeWidth": {"value": 1.5}, "opacity": {"value": 1}, "size": {"value": 144}}}}}}}},
     {"data": {"name": "D"}, "transform": [{"filter": "indexof(datum.s,'0,75')>=0"}], "mark": {"type": "point", "shape": "M-1,-1L1,1M-1,1L1,-1M0,-1.2L0,1.2", "filled": false, "size": 100, "strokeWidth": 1.4, "opacity": 1}, "encoding": {"color": {"field": "s", "type": "nominal", "scale": {"domain": ["Eφ` = 0", "0,50 kV·cm⁻¹", "0,75 kV·cm⁻¹"], "range": ["#00B0F0", "#FFC000", "#7030A0"]}, "legend": {"orient": "none", "legendX": -37, "legendY": 218, "direction": "horizontal", "title": null, "symbolSize": 144, "labelOffset": 14, "columnPadding": 22, "labelFontSize": 20, "labelColor": "black", "encode": {"symbols": {"update": {"shape": {"signal": "indexof(datum.value,'0,50')>=0 ? 'M-4,0H4M-0.9,-0.9H0.9V0.9H-0.9Z' : indexof(datum.value,'0,75')>=0 ? 'M-4,0H4M-0.85,-0.85L0.85,0.85M-0.85,0.85L0.85,-0.85M0,-1L0,1' : 'M-4,0H4M0,-1.05L1.05,0L0,1.05L-1.05,0Z'"}, "fill": {"signal": "indexof(datum.value,'0,50')>=0 ? '#FFC000' : indexof(datum.value,'0,75')>=0 ? '#7030A0' : '#00B0F0'"}, "stroke": {"signal": "indexof(datum.value,'0,50')>=0 ? '#FFC000' : indexof(datum.value,'0,75')>=0 ? '#7030A0' : '#00B0F0'"}, "strokeWidth": {"value": 1.5}, "opacity": {"value": 1}, "size": {"value": 144}}}}}}}},
     {"data": {"name": "tD_b"}, "mark": {"type": "text", "align": "center", "baseline": "middle", "fontSize": 25, "fontWeight": "bold", "font": "'Liberation Serif', 'Times New Roman', 'DejaVu Serif', serif", "color": "black"}, "encoding": {"text": {"field": "t"}}},
     {"data": {"name": "tD_ti"}, "mark": {"type": "text", "align": "left", "baseline": "middle", "fontSize": 21, "fontStyle": "italic", "font": "'Liberation Serif', 'Times New Roman', 'DejaVu Serif', serif", "color": "black"}, "encoding": {"text": {"field": "t"}}},
     {"data": {"name": "tD_tn"}, "mark": {"type": "text", "align": "left", "baseline": "middle", "fontSize": 21, "font": "'Liberation Serif', 'Times New Roman', 'DejaVu Serif', serif", "color": "black"}, "encoding": {"text": {"field": "t"}}}
    ]
   }
  ],
  "spacing": 3,
  "resolve": {"scale": {"x": "independent", "y": "independent", "color": "independent"}}
 }
],
"spacing": 34,
"resolve": {"scale": {"x": "independent", "y": "independent", "color": "independent"}}
}
